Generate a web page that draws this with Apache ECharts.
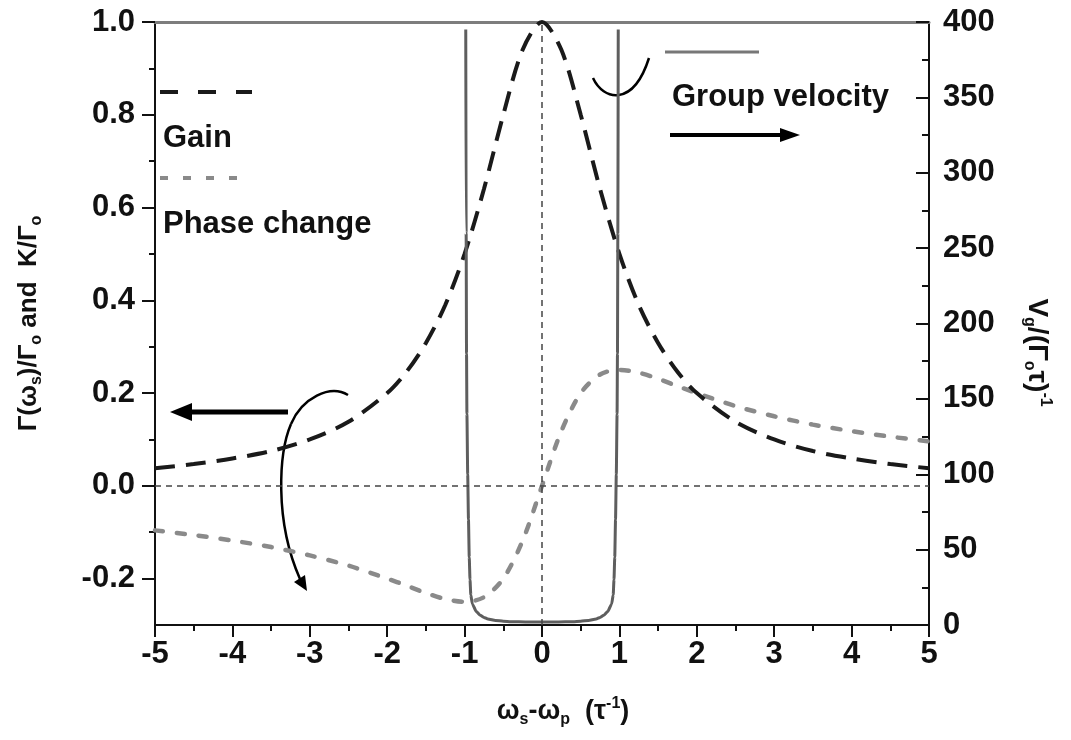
<!DOCTYPE html>
<html>
<head>
<meta charset="utf-8">
<script src="https://cdn.jsdelivr.net/npm/echarts@6/dist/echarts.min.js"></script>
<style>
  html, body { margin: 0; padding: 0; background: #fff; }
  #chart { width: 1071px; height: 740px; }
</style>
</head>
<body>
<div id="chart"></div>
<script>
// Detuning ω_s − ω_p (units of 1/τ) for gain and phase curves
const detuning = [-5, -4.5, -4, -3.5, -3, -2.5, -2, -1.75, -1.5, -1.25, -1, -0.75, -0.5, -0.25, 0,
                  0.25, 0.5, 0.75, 1, 1.25, 1.5, 1.75, 2, 2.5, 3, 3.5, 4, 4.5, 5];
// Gain Γ(ω_s)/Γ_o
const gain = [0.038, 0.047, 0.059, 0.075, 0.100, 0.138, 0.200, 0.246, 0.308, 0.390, 0.500, 0.640, 0.800, 0.940, 1.000,
              0.940, 0.800, 0.640, 0.500, 0.390, 0.308, 0.246, 0.200, 0.138, 0.100, 0.075, 0.059, 0.047, 0.038];
// Phase change K/Γ_o
const phase = [-0.096, -0.106, -0.118, -0.132, -0.150, -0.172, -0.200, -0.215, -0.231, -0.244, -0.250, -0.240, -0.200, -0.118, 0,
               0.118, 0.200, 0.240, 0.250, 0.244, 0.231, 0.215, 0.200, 0.172, 0.150, 0.132, 0.118, 0.106, 0.096];
// Group velocity V_g/(Γ_o τ)^-1 inside the gain window
const gvDetuning = [-0.985, -0.98, -0.975, -0.97, -0.96, -0.95, -0.94, -0.93, -0.92, -0.9, -0.85, -0.8, -0.75, -0.7, -0.6, -0.5, -0.4, -0.2, 0,
                    0.2, 0.4, 0.5, 0.6, 0.7, 0.75, 0.8, 0.85, 0.9, 0.92, 0.93, 0.94, 0.95, 0.96, 0.97, 0.975, 0.98, 0.985];
const groupVelocity = [395, 260, 180, 140, 100, 70, 45, 30, 20, 14, 9, 6.5, 5, 4, 3, 2.5, 2.2, 2, 2,
                       2, 2.2, 2.5, 3, 4, 5, 6.5, 9, 14, 20, 30, 45, 70, 100, 140, 180, 260, 395];
// Tick values
const leftMajorTicks = [-0.2, 0, 0.2, 0.4, 0.6, 0.8, 1.0];
const leftMinorTicks = [-0.1, 0.1, 0.3, 0.5, 0.7, 0.9];

const FONT = 'Liberation Sans';
const INK = '#111';
const pairs = (xs, ys) => xs.map((x, i) => [x, ys[i]]);

const tickLabel = { fontSize: 31, fontWeight: 'bold', fontFamily: FONT, color: INK };
function richSet(size) {
  return {
    t: { fontSize: size, fontWeight: 'bold', fontFamily: FONT, color: INK, lineHeight: 32, verticalAlign: 'middle' },
    s: { fontSize: 16, fontWeight: 'bold', fontFamily: FONT, color: INK, lineHeight: 16, verticalAlign: 'bottom' },
    p: { fontSize: 16, fontWeight: 'bold', fontFamily: FONT, color: INK, lineHeight: 16, verticalAlign: 'top' }
  };
}
const axisLineStyle = { color: INK, width: 2 };
const legendFont = { fontSize: 31, fontWeight: 'bold', fontFamily: FONT, fill: INK, verticalAlign: 'middle' };
const curveStroke = { stroke: '#000', lineWidth: 2.5, fill: null };

const chart = echarts.init(document.getElementById('chart'), null, { renderer: 'canvas' });
chart.setOption({
  animation: false,
  backgroundColor: '#fff',
  grid: { left: 155, right: 142, top: 22, bottom: 115 },
  xAxis: [
    {
      type: 'value', min: -5, max: 5, interval: 1, position: 'bottom',
      axisLine: { onZero: false, lineStyle: axisLineStyle },
      axisTick: { length: 12, lineStyle: axisLineStyle },
      minorTick: { show: true, splitNumber: 2, length: 6, lineStyle: axisLineStyle },
      splitLine: { show: false },
      axisLabel: Object.assign({ margin: 14 }, tickLabel),
      name: '{t|ω}{s|s}{t|-ω}{s|p}{t|  (τ}{p|-1}{t|)}',
      nameLocation: 'middle', nameGap: 71,
      nameTextStyle: { rich: richSet(27), padding: [0, 0, 0, 42] }
    },
    {
      type: 'value', min: -5, max: 5, position: 'top',
      axisLine: { onZero: false, lineStyle: { color: '#7d7d7d', width: 3 } },
      axisTick: { show: false }, axisLabel: { show: false }, splitLine: { show: false }
    }
  ],
  yAxis: [
    {
      type: 'value', min: -0.3, max: 1.0, interval: 0.1, position: 'left',
      axisLine: { onZero: false, lineStyle: axisLineStyle },
      axisTick: { length: 13, customValues: leftMajorTicks, lineStyle: axisLineStyle },
      splitLine: { show: false },
      axisLabel: Object.assign({ margin: 20, customValues: leftMajorTicks, formatter: v => v.toFixed(1) }, tickLabel),
      name: '{t|Γ(ω}{s|s}{t|)/Γ}{s|o}{t| and  K/Γ}{s|o}',
      nameLocation: 'middle', nameRotate: 90, nameGap: 110,
      nameTextStyle: { rich: richSet(26) }
    },
    {
      type: 'value', min: 0, max: 400, interval: 50, position: 'right',
      axisLine: { onZero: false, lineStyle: axisLineStyle },
      axisTick: { inside: true, length: 13, lineStyle: axisLineStyle },
      minorTick: { show: true, splitNumber: 2, length: 7, lineStyle: axisLineStyle },
      splitLine: { show: false },
      axisLabel: Object.assign({ margin: 14 }, tickLabel),
      name: '{t|V}{s|g}{t|/(Γ}{s|o}{t|τ)}{p|-1}',
      nameLocation: 'middle', nameRotate: -90, nameGap: 92,
      nameTextStyle: { rich: richSet(28), padding: [0, 0, 0, 58] }
    },
    {
      // minor ticks of the left axis
      type: 'value', min: -0.3, max: 1.0, position: 'left',
      axisLine: { show: false, onZero: false },
      axisTick: { length: 6, customValues: leftMinorTicks, lineStyle: axisLineStyle },
      axisLabel: { show: false }, splitLine: { show: false }
    }
  ],
  series: [
    {
      name: 'Phase change', type: 'line', xAxisIndex: 0, yAxisIndex: 0,
      data: pairs(detuning, phase), showSymbol: false, smooth: 0.3,
      lineStyle: { color: '#8a8a8a', width: 4.5, type: [8, 14], cap: 'round' }
    },
    {
      name: 'Gain', type: 'line', xAxisIndex: 0, yAxisIndex: 0,
      data: pairs(detuning, gain), showSymbol: false, smooth: 0.3,
      lineStyle: { color: '#1a1a1a', width: 4, type: [20, 11] },
      markLine: {
        silent: true, symbol: ['none', 'none'], label: { show: false },
        lineStyle: { color: '#444', width: 1.5, type: [6, 5] },
        data: [{ yAxis: 0 }, { xAxis: 0 }]
      }
    },
    {
      name: 'Group velocity', type: 'line', xAxisIndex: 0, yAxisIndex: 1,
      data: pairs(gvDetuning, groupVelocity), showSymbol: false, smooth: 0.2, smoothMonotone: 'x',
      lineStyle: { color: '#5e5e5e', width: 3 }
    }
  ],
  graphic: [
    // key samples and labels
    { type: 'line', shape: { x1: 160, y1: 92, x2: 252, y2: 92 }, style: { stroke: '#1a1a1a', lineWidth: 4, lineDash: [18, 20] } },
    { type: 'text', x: 163, y: 138, style: Object.assign({ text: 'Gain' }, legendFont) },
    { type: 'line', shape: { x1: 160, y1: 178, x2: 240, y2: 178 }, style: { stroke: '#8a8a8a', lineWidth: 4, lineDash: [8, 15] } },
    { type: 'text', x: 163, y: 224, style: Object.assign({ text: 'Phase change' }, legendFont) },
    { type: 'line', shape: { x1: 665, y1: 52, x2: 759, y2: 52 }, style: { stroke: '#777', lineWidth: 3 } },
    { type: 'text', x: 672, y: 97, style: Object.assign({ text: 'Group velocity' }, legendFont) },
    // arrow towards the left axis
    { type: 'line', shape: { x1: 288, y1: 412, x2: 188, y2: 412 }, style: { stroke: '#000', lineWidth: 5 } },
    { type: 'polygon', shape: { points: [[170, 412], [192, 403], [192, 421]] }, style: { fill: '#000' } },
    // curved arrow sweeping down across the gain and phase curves
    { type: 'bezierCurve', shape: { x1: 348, y1: 395, cpx1: 330, cpy1: 384, cpx2: 302, cpy2: 398, x2: 291, y2: 424 }, style: curveStroke },
    { type: 'bezierCurve', shape: { x1: 291, y1: 424, cpx1: 279, cpy1: 452, cpx2: 274, cpy2: 520, x2: 300, y2: 579 }, style: curveStroke },
    { type: 'polygon', shape: { points: [[307, 591], [305, 575], [294, 582]] }, style: { fill: '#000' } },
    // hook around the right group-velocity edge
    { type: 'bezierCurve', shape: { x1: 593, y1: 78, cpx1: 603, cpy1: 100, cpx2: 633, cpy2: 108, x2: 649, y2: 58 }, style: curveStroke },
    // arrow towards the right axis
    { type: 'line', shape: { x1: 670, y1: 135, x2: 782, y2: 135 }, style: { stroke: '#000', lineWidth: 4 } },
    { type: 'polygon', shape: { points: [[800, 135], [780, 128], [780, 142]] }, style: { fill: '#000' } }
  ]
});
</script>
</body>
</html>
